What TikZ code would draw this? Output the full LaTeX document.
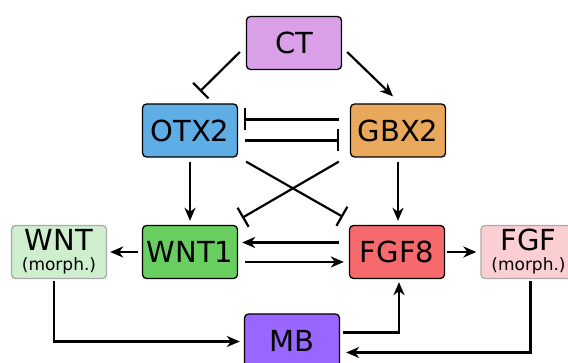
\documentclass[tikz,border=0pt]{standalone}
\usepackage{fontspec}
\setmainfont{DejaVu Sans}
\usetikzlibrary{arrows.meta}
\definecolor{cct}{RGB}{217,160,232}
\definecolor{cotx}{RGB}{94,173,228}
\definecolor{cgbx}{RGB}{234,168,92}
\definecolor{cwnt}{RGB}{104,206,96}
\definecolor{cfgf}{RGB}{246,106,110}
\definecolor{cmb}{RGB}{153,102,255}
\definecolor{cwntm}{RGB}{206,238,206}
\definecolor{cfgfm}{RGB}{251,206,209}
\definecolor{cgrayb}{RGB}{170,170,170}
\tikzset{
  gene/.style={draw=black, line width=1.3pt, rounded corners=4pt, minimum width=95pt, minimum height=53pt, inner sep=0pt, font=\fontsize{29}{30}\selectfont},
  morph/.style={draw=cgrayb, line width=1.3pt, rounded corners=4pt, minimum width=95pt, minimum height=53pt, inner sep=0pt, align=center, font=\fontsize{29}{20}\selectfont},
  act/.style={line width=2.2pt, -{Stealth[length=13pt, width=11pt, inset=4pt]}},
  inh/.style={line width=2.2pt, -{Bar[width=22pt, line width=2.2pt]}},
  conn/.style={line width=2.2pt}
}
\begin{document}
\begin{tikzpicture}[x=1pt,y=-1pt]
\clip (0,0) rectangle (568,363);
\node[gene, fill=cct] (ct) at (294,43) {CT};
\node[gene, fill=cotx] (otx2) at (190,130.5) {OTX2};
\node[gene, fill=cgbx] (gbx2) at (398,130.5) {GBX2};
\node[gene, fill=cwnt] (wnt1) at (190,252) {WNT1};
\node[gene, fill=cfgf] (fgf8) at (397,252) {FGF8};
\node[gene, fill=cmb] (mb) at (292,340.5) {MB};
\node[morph, fill=cwntm] (wntm) at (59,252) {WNT\\{\fontsize{17}{20}\selectfont (morph.)}};
\node[morph, fill=cfgfm] (fgfm) at (528.5,252) {FGF\\{\fontsize{17}{20}\selectfont (morph.)}};
% CT
\draw[inh] ([xshift=-6pt,yshift=-9pt]ct.west) -- ([xshift=10pt,yshift=12pt]otx2.north);
\draw[act] ([xshift=5pt,yshift=-9pt]ct.east) -- ([xshift=-5pt,yshift=7pt]gbx2.north);
% OTX2 <-> GBX2
\draw[inh] ([xshift=-11pt,yshift=11pt]gbx2.west) -- ([xshift=6pt,yshift=11pt]otx2.east);
\draw[inh] ([xshift=7pt,yshift=-10pt]otx2.east) -- ([xshift=-11pt,yshift=-10pt]gbx2.west);
% vertical
\draw[act] ([yshift=-4pt]otx2.south) -- ([yshift=4pt]wnt1.north);
\draw[act] ([yshift=-4pt]gbx2.south) -- ([xshift=1pt,yshift=4pt]fgf8.north);
% crossing
\draw[inh] ([xshift=8pt,yshift=-4pt]otx2.south east) -- ([xshift=-6pt,yshift=8pt]fgf8.north west);
\draw[inh] ([xshift=-11pt,yshift=-4pt]gbx2.south west) -- ([xshift=4pt,yshift=7pt]wnt1.north east);
% WNT1 <-> FGF8
\draw[act] ([xshift=-10pt,yshift=9.5pt]fgf8.west) -- ([xshift=4pt,yshift=9.5pt]wnt1.east);
\draw[act] ([xshift=7pt,yshift=-10pt]wnt1.east) -- ([xshift=-5pt,yshift=-10pt]fgf8.west);
% to morphogens
\draw[act] ([xshift=-4pt]wnt1.west) -- ([xshift=3pt]wntm.east);
\draw[act] ([xshift=2pt]fgf8.east) -- ([xshift=-4pt]fgfm.west);
% MB loops
\draw[act] ([xshift=-5pt,yshift=-2pt]wntm.south) |- ([xshift=-4pt,yshift=-1pt]mb.west);
\draw[act] ([xshift=3pt,yshift=8pt]mb.east) -| ([xshift=2pt,yshift=-3pt]fgf8.south);
\draw[act] ([xshift=2pt,yshift=-2pt]fgfm.south) |- ([xshift=6pt,yshift=-12pt]mb.east);
\end{tikzpicture}
\end{document}
